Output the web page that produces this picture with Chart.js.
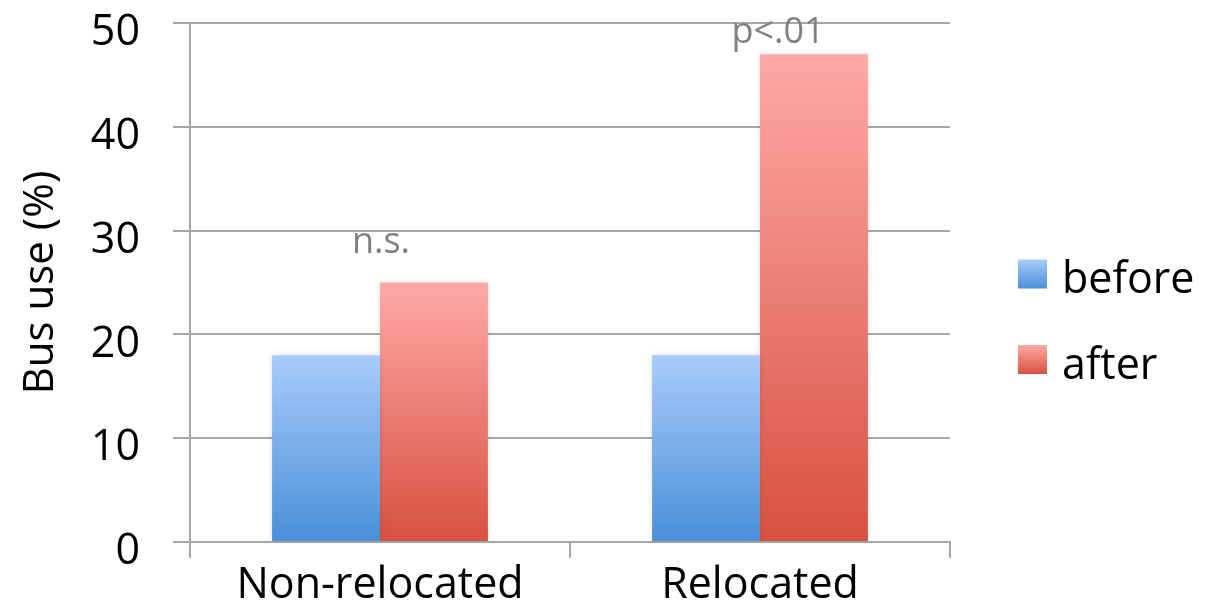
<!DOCTYPE html>
<html>
<head>
<meta charset="utf-8">
<title>Bus use before and after relocation</title>
<script src="https://cdn.jsdelivr.net/npm/chart.js@4.4.1/dist/chart.umd.min.js"></script>
<style>
  html, body { margin: 0; padding: 0; background: #ffffff; }
  #wrap { width: 1207px; height: 602px; position: relative; }
</style>
</head>
<body>
<div id="wrap"><canvas id="chart"></canvas></div>
<script>
// Data
const categories = ['Non-relocated', 'Relocated'];
const seriesNames = ['before', 'after'];
const beforeValues = [18, 18];
const afterValues = [25, 47];
const yTicks = [0, 10, 20, 30, 40, 50];
const significance = ['n.s.', 'p<.01'];

// Styling
const FONT = '"Open Sans", "DejaVu Sans", sans-serif';
const GRID = '#a6a6a6';
const blueStops = ['#a7ccfa', '#4a8fd8'];
const redStops = ['#fda9a7', '#d8513f'];

Chart.defaults.font.family = FONT;
Chart.defaults.color = '#000000';

// Vertical gradient running from the top of each bar down to the baseline
function barGradient(stops) {
  return (ctx) => {
    const chart = ctx.chart;
    if (!chart.chartArea || ctx.type !== 'data') return stops[1];
    const y = chart.scales.y;
    const top = y.getPixelForValue(ctx.raw);
    const bottom = y.getPixelForValue(0);
    const g = chart.ctx.createLinearGradient(0, top, 0, bottom);
    g.addColorStop(0, stops[0]);
    g.addColorStop(1, stops[1]);
    return g;
  };
}

// Soft glow around the bars
const barGlow = {
  id: 'barGlow',
  beforeDatasetsDraw(chart) {
    const c = chart.ctx;
    c.save();
    c.shadowColor = 'rgba(0,0,0,0.12)';
    c.shadowBlur = 6;
  },
  afterDatasetsDraw(chart) {
    chart.ctx.restore();
  }
};

// Significance notes above the "after" bars
const sigNotes = {
  id: 'sigNotes',
  afterDatasetsDraw(chart) {
    const meta = chart.getDatasetMeta(1);
    const xScale = chart.scales.x;
    const c = chart.ctx;
    const shifts = [[1, 30], [18, 11]];
    c.save();
    c.font = '36px ' + FONT;
    c.fillStyle = '#808080';
    c.textAlign = 'center';
    c.textBaseline = 'alphabetic';
    significance.forEach((text, i) => {
      const bar = meta.data[i];
      c.fillText(text, xScale.getPixelForValue(i) + shifts[i][0], bar.y - shifts[i][1]);
    });
    c.restore();
  }
};

// Legend on the right with gradient swatches
const sideLegend = {
  id: 'sideLegend',
  afterDraw(chart) {
    const c = chart.ctx;
    const area = chart.chartArea;
    const box = 29;
    const x0 = area.right + 68;
    const rows = [274, 359.5];
    const stops = [blueStops, redStops];
    c.save();
    chart.data.datasets.forEach((ds, i) => {
      const cy = rows[i];
      const top = cy - box / 2;
      const g = c.createLinearGradient(0, top, 0, top + box);
      g.addColorStop(0, stops[i][0]);
      g.addColorStop(1, stops[i][1]);
      c.fillStyle = g;
      c.fillRect(x0, top, box, box);
      c.fillStyle = '#000000';
      c.font = '43px ' + FONT;
      c.textAlign = 'left';
      c.textBaseline = 'alphabetic';
      c.fillText(ds.label, x0 + box + 15, cy + 19);
    });
    c.restore();
  }
};

new Chart(document.getElementById('chart'), {
  type: 'bar',
  data: {
    labels: categories,
    datasets: [
      { label: seriesNames[0], data: beforeValues, backgroundColor: barGradient(blueStops) },
      { label: seriesNames[1], data: afterValues, backgroundColor: barGradient(redStops) }
    ]
  },
  options: {
    responsive: true,
    maintainAspectRatio: false,
    devicePixelRatio: 1,
    animation: false,
    datasets: {
      bar: { categoryPercentage: 0.568, barPercentage: 1, borderWidth: 0 }
    },
    layout: { padding: { top: 23, right: 257, bottom: 0, left: 0 } },
    plugins: {
      legend: { display: false },
      tooltip: { enabled: false }
    },
    scales: {
      x: {
        grid: {
          display: true, drawOnChartArea: false, drawTicks: true,
          tickLength: 16, color: GRID, lineWidth: 2, offset: true
        },
        border: { display: true, color: GRID, width: 2 },
        ticks: { font: { size: 43, lineHeight: 1 }, color: '#000000', padding: 6 },
        afterFit(s) {
          s.height = 60;
          s.paddingLeft = 0; s.paddingRight = 0;
        }
      },
      y: {
        min: 0,
        max: 50,
        grid: { color: GRID, lineWidth: 2, tickLength: 17, drawTicks: true },
        border: { display: true, color: GRID, width: 2 },
        ticks: {
          font: { size: 43, lineHeight: 1 }, color: '#000000',
          padding: 33, labelOffset: 10
        },
        afterBuildTicks(s) { s.ticks = yTicks.map(v => ({ value: v })); },
        title: {
          display: true, text: 'Bus use (%)', color: '#000000',
          font: { size: 42, lineHeight: 1.2 }, padding: { top: 16, bottom: 0 }
        },
        afterFit(s) {
          s.width = 190;
          s.paddingTop = 0; s.paddingBottom = 0;
        }
      }
    }
  },
  plugins: [barGlow, sigNotes, sideLegend]
});
</script>
</body>
</html>
